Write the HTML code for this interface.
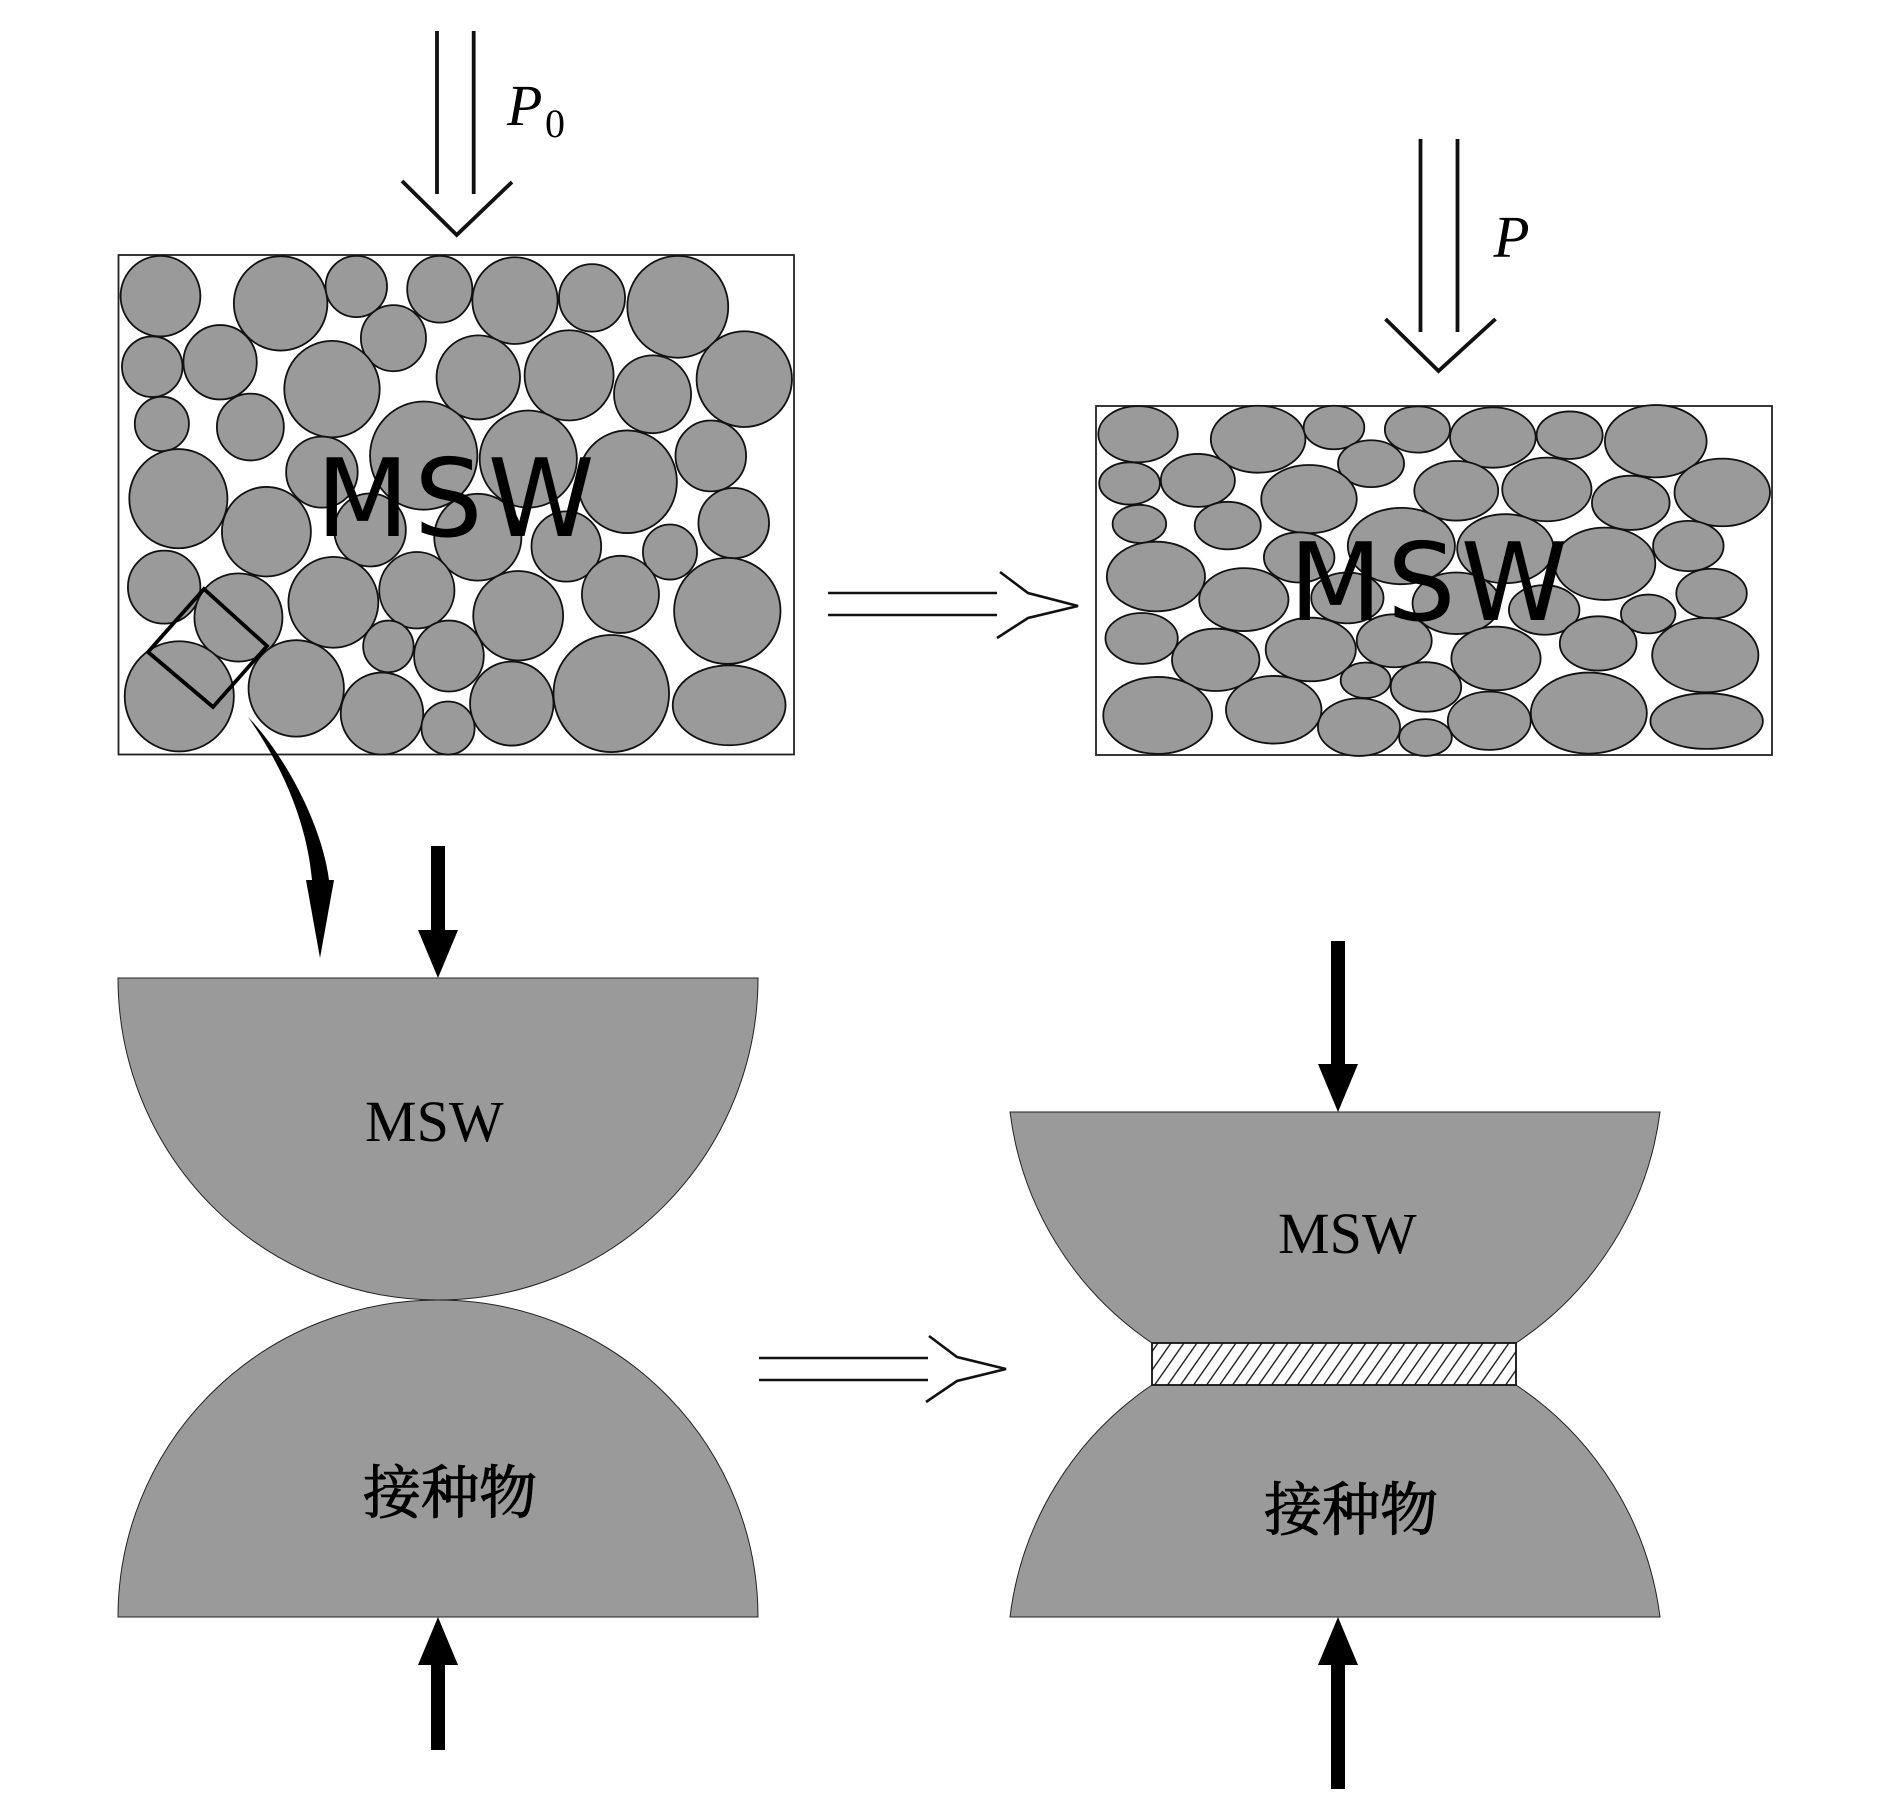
<!DOCTYPE html>
<html>
<head>
<meta charset="utf-8">
<style>
html,body{margin:0;padding:0;background:#fff;}
svg{display:block;}
.c ellipse{fill:#9a9a9a;stroke:#111;stroke-width:1.8;vector-effect:non-scaling-stroke;}
.l{stroke:#111;stroke-width:3.8;fill:none;}
.th{stroke:#111;stroke-width:2.6;fill:none;}
.ds{font-family:"DejaVu Sans",sans-serif;font-size:108px;fill:#000;letter-spacing:5px;}
.ts{font-family:"Liberation Serif",serif;font-size:58px;fill:#000;}
.cj{font-family:"Liberation Serif","Noto Serif CJK SC",serif;font-size:58px;fill:#000;stroke:#000;stroke-width:1;}
</style>
</head>
<body>
<svg width="1890" height="1819" viewBox="0 0 1890 1819" xmlns="http://www.w3.org/2000/svg">
<defs>
<pattern id="h" width="13" height="42" patternUnits="userSpaceOnUse" patternTransform="translate(1152 1343) skewX(-35)">
<rect width="13" height="42" fill="#fff"/>
<line x1="6" y1="0" x2="6" y2="42" stroke="#111" stroke-width="1.6"/>
</pattern>
</defs>
<rect width="1890" height="1819" fill="#fff"/>

<!-- P0 arrow -->
<path class="l" d="M437 31V194M473.7 31V194M402 181L456.7 235L512 182"/>
<text x="507" y="125" font-family="Liberation Serif" font-style="italic" font-size="58">P</text>
<text x="545" y="137" font-family="Liberation Serif" font-size="40">0</text>

<!-- P arrow -->
<path class="l" d="M1420.5 139V332M1457.5 139V332M1385.5 319L1438.5 371L1495.5 319"/>
<text x="1493.5" y="257" font-family="Liberation Serif" font-style="italic" font-size="59">P</text>

<!-- panel 1 -->
<rect x="118.5" y="255" width="675.5" height="499.5" fill="#fff" stroke="#222" stroke-width="1.8"/>
<g class="c" transform="translate(100.4,240) scale(.4586,.3444)">
<ellipse cx="131" cy="163" rx="87" ry="117"/><ellipse cx="393" cy="184" rx="102" ry="137"/><ellipse cx="558" cy="135" rx="67" ry="89"/><ellipse cx="740" cy="143" rx="71" ry="97"/><ellipse cx="904" cy="176" rx="93" ry="126"/><ellipse cx="1072" cy="168" rx="72" ry="98"/><ellipse cx="1259" cy="194" rx="110" ry="148"/><ellipse cx="639" cy="285" rx="71" ry="96"/><ellipse cx="113" cy="368" rx="66" ry="88"/><ellipse cx="261" cy="355" rx="80" ry="108"/><ellipse cx="505" cy="433" rx="104" ry="140"/><ellipse cx="824" cy="399" rx="91" ry="122"/><ellipse cx="1022" cy="393" rx="97" ry="131"/><ellipse cx="1204" cy="448" rx="84" ry="113"/><ellipse cx="1404" cy="404" rx="104" ry="139"/><ellipse cx="134" cy="534" rx="59" ry="79"/><ellipse cx="327" cy="543" rx="73" ry="97"/><ellipse cx="483" cy="674" rx="78" ry="103"/><ellipse cx="705" cy="626" rx="117" ry="157"/><ellipse cx="933" cy="636" rx="106" ry="141"/><ellipse cx="1149" cy="702" rx="108" ry="149"/><ellipse cx="1331" cy="627" rx="77" ry="103"/><ellipse cx="170" cy="751" rx="107" ry="144"/><ellipse cx="362" cy="847" rx="97" ry="130"/><ellipse cx="588" cy="842" rx="78" ry="106"/><ellipse cx="823" cy="863" rx="95" ry="126"/><ellipse cx="1016" cy="890" rx="76" ry="102"/><ellipse cx="1242" cy="906" rx="59" ry="80"/><ellipse cx="1381" cy="822" rx="77" ry="102"/><ellipse cx="139" cy="1008" rx="79" ry="106"/><ellipse cx="301" cy="1096" rx="96" ry="128"/><ellipse cx="508" cy="1052" rx="98" ry="132"/><ellipse cx="690" cy="1017" rx="82" ry="111"/><ellipse cx="911" cy="1091" rx="98" ry="130"/><ellipse cx="1134" cy="1029" rx="84" ry="112"/><ellipse cx="1367" cy="1077" rx="116" ry="154"/><ellipse cx="628" cy="1180" rx="55" ry="75"/><ellipse cx="760" cy="1208" rx="76" ry="103"/><ellipse cx="172" cy="1325" rx="119" ry="160"/><ellipse cx="427" cy="1302" rx="104" ry="140"/><ellipse cx="614" cy="1375" rx="90" ry="119"/><ellipse cx="758" cy="1417" rx="58" ry="77"/><ellipse cx="897" cy="1346" rx="91" ry="122"/><ellipse cx="1114" cy="1317" rx="126" ry="170"/><ellipse cx="1371" cy="1351" rx="123" ry="116"/>
</g>
<text class="ds" x="316" y="536">MSW</text>
<polygon points="204,589 267,646 213,707 148,652" fill="none" stroke="#000" stroke-width="3.8"/>

<!-- panel 2 -->
<rect x="1096" y="406" width="676" height="349" fill="#fff" stroke="#222" stroke-width="1.8"/>
<g class="c" transform="translate(1090.3,390) scale(.4463,.3348)">
<ellipse cx="107" cy="132" rx="89" ry="84"/><ellipse cx="376" cy="147" rx="106" ry="100"/><ellipse cx="546" cy="112" rx="68" ry="65"/><ellipse cx="733" cy="118" rx="73" ry="69"/><ellipse cx="902" cy="142" rx="96" ry="90"/><ellipse cx="1074" cy="135" rx="74" ry="71"/><ellipse cx="1267" cy="153" rx="114" ry="108"/><ellipse cx="629" cy="220" rx="74" ry="70"/><ellipse cx="88" cy="279" rx="68" ry="63"/><ellipse cx="241" cy="270" rx="83" ry="79"/><ellipse cx="490" cy="326" rx="107" ry="102"/><ellipse cx="820" cy="301" rx="94" ry="89"/><ellipse cx="1023" cy="297" rx="100" ry="95"/><ellipse cx="1211" cy="337" rx="87" ry="81"/><ellipse cx="1416" cy="306" rx="107" ry="101"/><ellipse cx="110" cy="400" rx="60" ry="57"/><ellipse cx="308" cy="405" rx="74" ry="71"/><ellipse cx="468" cy="500" rx="79" ry="75"/><ellipse cx="697" cy="466" rx="120" ry="114"/><ellipse cx="930" cy="474" rx="108" ry="103"/><ellipse cx="1153" cy="519" rx="113" ry="108"/><ellipse cx="1340" cy="466" rx="79" ry="75"/><ellipse cx="147" cy="557" rx="110" ry="104"/><ellipse cx="344" cy="626" rx="100" ry="94"/><ellipse cx="576" cy="621" rx="81" ry="76"/><ellipse cx="820" cy="637" rx="98" ry="92"/><ellipse cx="1017" cy="657" rx="79" ry="74"/><ellipse cx="1250" cy="669" rx="61" ry="58"/><ellipse cx="1392" cy="608" rx="79" ry="74"/><ellipse cx="115" cy="742" rx="81" ry="76"/><ellipse cx="281" cy="806" rx="98" ry="93"/><ellipse cx="494" cy="775" rx="101" ry="95"/><ellipse cx="681" cy="749" rx="84" ry="79"/><ellipse cx="909" cy="802" rx="100" ry="95"/><ellipse cx="1138" cy="757" rx="86" ry="81"/><ellipse cx="1378" cy="792" rx="119" ry="111"/><ellipse cx="617" cy="867" rx="56" ry="53"/><ellipse cx="752" cy="887" rx="79" ry="74"/><ellipse cx="151" cy="972" rx="122" ry="115"/><ellipse cx="411" cy="955" rx="107" ry="101"/><ellipse cx="602" cy="1007" rx="92" ry="86"/><ellipse cx="751" cy="1038" rx="59" ry="55"/><ellipse cx="894" cy="988" rx="93" ry="87"/><ellipse cx="1117" cy="965" rx="130" ry="121"/><ellipse cx="1381" cy="989" rx="126" ry="83"/>
</g>
<text class="ds" x="1289" y="620">MSW</text>

<!-- hollow arrows -->
<path class="th" d="M828 593H997M828 615H997M1000 572L1028 593L1078 606L1028 618L997 638"/>
<path class="th" d="M759 1358H928M759 1380H928M929 1336L957 1357L1006 1369L957 1381L926 1402"/>

<!-- curved arrow -->
<path fill="#000" d="M248 717C285 755 322 825 329 880H334L320 958L306 880H312C307 825 285 770 248 717Z"/>

<!-- solid arrows -->
<path fill="#000" d="M431 846H445V930H458L438 978L418 930H431Z"/>
<path fill="#000" d="M431 1750H445V1665H458L438 1617L418 1665H431Z"/>
<path fill="#000" d="M1331 941H1345V1064H1358L1338 1112L1318 1064H1331Z"/>
<path fill="#000" d="M1331 1789H1345V1665H1358L1338 1617L1318 1665H1331Z"/>

<!-- left contact pair -->
<path d="M118 978H758A320 322 0 0 1 118 978Z" fill="#9a9a9a" stroke="#222" stroke-width="1"/>
<path d="M118 1617H758A320 317 0 0 0 118 1617Z" fill="#9a9a9a" stroke="#222" stroke-width="1"/>
<text class="ts" x="365" y="1141">MSW</text>
<text class="cj" x="363" y="1513">接种物</text>

<!-- right contact pair -->
<path d="M1010 1112H1660A327.6 327.6 0 0 1 1516 1343H1152A327.6 327.6 0 0 1 1010 1112Z" fill="#9a9a9a" stroke="#222" stroke-width="1"/>
<path d="M1152 1385H1516A327.6 327.6 0 0 1 1660 1617H1010A327.6 327.6 0 0 1 1152 1385Z" fill="#9a9a9a" stroke="#222" stroke-width="1"/>
<rect x="1152" y="1343" width="364" height="42" fill="url(#h)" stroke="#111" stroke-width="1.8"/>
<text class="ts" x="1278" y="1253">MSW</text>
<text class="cj" x="1264" y="1530">接种物</text>
</svg>
</body>
</html>
